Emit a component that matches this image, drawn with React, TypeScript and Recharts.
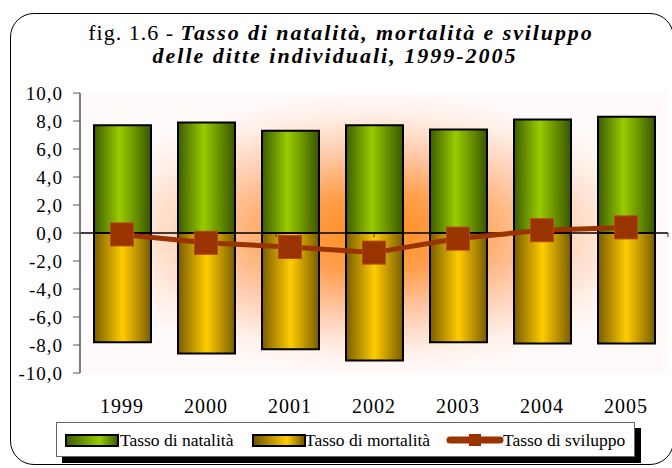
import React from 'react';
import {
  ComposedChart,
  Bar,
  Line,
  XAxis,
  YAxis,
  CartesianGrid,
  ReferenceLine,
  ReferenceArea,
} from 'recharts';

// values
const years = ['1999', '2000', '2001', '2002', '2003', '2004', '2005'];
const natalita = [7.7, 7.9, 7.3, 7.7, 7.4, 8.1, 8.3];
const mortalita = [-7.8, -8.6, -8.3, -9.1, -7.8, -7.9, -7.9];
const sviluppo = [-0.1, -0.7, -1.0, -1.4, -0.4, 0.2, 0.4];
const yTicks = [-10, -8, -6, -4, -2, 0, 2, 4, 6, 8, 10];
const boundaries = [1, 2, 3, 4, 5, 6, 7];

const chartData = years.map((year, i) => ({
  year,
  natalita: natalita[i],
  mortalita: mortalita[i],
  sviluppo: sviluppo[i],
}));

const BROWN = '#993300';
const serif = 'Liberation Serif';

const fmt = (v: number) => v.toFixed(1).replace('.', ',');

const SquareDot = (props: any) => {
  const { cx, cy, index } = props;
  if (cx == null || cy == null) return null;
  return (
    <rect
      key={`dot-${index}`}
      x={cx - 11.5}
      y={cy - 11.5}
      width={23}
      height={23}
      fill={BROWN}
      stroke="#b5461a"
      strokeWidth={1}
    />
  );
};

const YTick = (props: any) => {
  const { x, y, payload } = props;
  return (
    <text x={x} y={y} dy="0.36em" textAnchor="end" fontFamily={serif} fontSize={19} letterSpacing={1} fill="#000">
      {fmt(payload.value)}
    </text>
  );
};

const XTick = (props: any) => {
  const { x, y, payload } = props;
  return (
    <text x={x} y={y} dy="0.71em" textAnchor="middle" fontFamily={serif} fontSize={20} letterSpacing={1} fill="#000">
      {payload.value}
    </text>
  );
};

const Swatch = ({ from, mid, left }: { from: string; mid: string; left: number }) => (
  <svg width={54} height={13} style={{ position: 'absolute', left, top: 11 }}>
    <defs>
      <linearGradient id={`sw-${mid}`} x1="0" y1="0" x2="1" y2="0">
        <stop offset="0%" stopColor={from} />
        <stop offset="65%" stopColor={mid} />
        <stop offset="100%" stopColor={from} />
      </linearGradient>
    </defs>
    <rect x={1} y={1} width={52} height={11} fill={`url(#sw-${mid})`} stroke="#000" strokeWidth={2} />
  </svg>
);

const label = (left: number): React.CSSProperties => ({
  position: 'absolute',
  left,
  top: 6,
  lineHeight: '22px',
  whiteSpace: 'nowrap',
});

const Legend = () => (
  <div
    style={{
      position: 'absolute',
      left: 56,
      top: 422,
      width: 577,
      height: 33,
      background: '#fff',
      border: '1.5px solid #666',
      boxShadow: '6px 6px 0 #000',
      fontFamily: serif,
      fontSize: 17.5,
    }}
  >
    <Swatch from="#3a5a00" mid="#99cc00" left={8} />
    <span style={label(63)}>Tasso di natalità</span>
    <Swatch from="#6e5200" mid="#ffcc00" left={195} />
    <span style={label(248)}>Tasso di mortalità</span>
    <svg width={58} height={16} style={{ position: 'absolute', left: 389, top: 9 }}>
      <line x1={4} y1={8} x2={54} y2={8} stroke={BROWN} strokeWidth={7} strokeLinecap="round" />
      <rect x={23} y={2} width={12} height={12} fill={BROWN} />
    </svg>
    <span style={label(446)}>Tasso di sviluppo</span>
  </div>
);

export default function App() {
  return (
    <div style={{ position: 'absolute', left: 0, top: 0, width: 672, height: 468, background: '#fff', overflow: 'hidden' }}>
      <div
        style={{
          position: 'absolute',
          left: 10,
          top: 13,
          width: 662,
          height: 450,
          border: '1.5px solid #000',
          borderRadius: 24,
        }}
      />
      <div
        style={{
          position: 'absolute',
          left: 0,
          top: 21,
          width: 682,
          textAlign: 'center',
          fontFamily: serif,
          fontSize: 22,
          lineHeight: '23px',
          color: '#000',
          whiteSpace: 'nowrap',
        }}
      >
        <div style={{ letterSpacing: 1 }}>
          fig. 1.6 - <b><i style={{ letterSpacing: 1.9 }}>Tasso di natalità, mortalità e sviluppo</i></b>
        </div>
        <div style={{ marginLeft: -12 }}>
          <b><i style={{ letterSpacing: 2 }}>delle ditte individuali, 1999-2005</i></b>
        </div>
      </div>
      <div style={{ position: 'absolute', left: 0, top: 0 }}>
        <ComposedChart
          width={672}
          height={468}
          data={chartData}
          stackOffset="sign"
          margin={{ top: 93, right: 4, left: 10, bottom: 55 }}
        >
          <defs>
            <radialGradient id="glow" cx="0.5" cy="0.5" r="0.5">
              <stop offset="0%" stopColor="#ff8c1a" />
              <stop offset="30%" stopColor="#ffa050" />
              <stop offset="60%" stopColor="#ffcdb0" />
              <stop offset="85%" stopColor="#fff0e8" />
              <stop offset="100%" stopColor="#fffafa" />
            </radialGradient>
            <linearGradient id="green" x1="0" y1="0" x2="1" y2="0">
              <stop offset="0%" stopColor="#3d5c00" />
              <stop offset="45%" stopColor="#99cc00" />
              <stop offset="100%" stopColor="#3a5500" />
            </linearGradient>
            <linearGradient id="yellow" x1="0" y1="0" x2="1" y2="0">
              <stop offset="0%" stopColor="#7a5c00" />
              <stop offset="50%" stopColor="#ffcc00" />
              <stop offset="100%" stopColor="#7a5c00" />
            </linearGradient>
          </defs>
          <CartesianGrid horizontal={false} vertical={false} fill="url(#glow)" stroke="none" />
          <XAxis
            dataKey="year"
            axisLine={false}
            tickLine={false}
            tickSize={0}
            tickMargin={26}
            height={40}
            tick={<XTick />}
          />
          <XAxis xAxisId="n" type="number" domain={[0, 7]} allowDataOverflow hide />
          <YAxis
            width={70}
            domain={[-10, 10]}
            ticks={yTicks}
            interval={0}
            tickSize={7}
            tickMargin={10}
            axisLine={{ stroke: '#555', strokeWidth: 1.5 }}
            tickLine={{ stroke: '#555' }}
            tick={<YTick />}
          />
          <ReferenceArea
            xAxisId="n"
            x1={0}
            x2={7}
            y1={-10}
            y2={10}
            fill="none"
            stroke="#999"
            strokeWidth={2.5}
          />
          <Bar
            dataKey="natalita"
            stackId="a"
            barSize={57}
            fill="url(#green)"
            stroke="#000"
            strokeWidth={2}
            isAnimationActive={false}
          />
          <Bar
            dataKey="mortalita"
            stackId="a"
            barSize={57}
            fill="url(#yellow)"
            stroke="#000"
            strokeWidth={2}
            isAnimationActive={false}
          />
          <ReferenceLine y={0} stroke="#000" strokeWidth={1.5} />
          {boundaries.map((b) => (
            <ReferenceLine
              key={b}
              xAxisId="n"
              segment={[
                { x: b, y: 0 },
                { x: b, y: -0.3 },
              ]}
              stroke="#333"
            />
          ))}
          <Line
            dataKey="sviluppo"
            stroke={BROWN}
            strokeWidth={5}
            dot={SquareDot}
            activeDot={false}
            isAnimationActive={false}
          />
        </ComposedChart>
      </div>
      <Legend />
    </div>
  );
}
